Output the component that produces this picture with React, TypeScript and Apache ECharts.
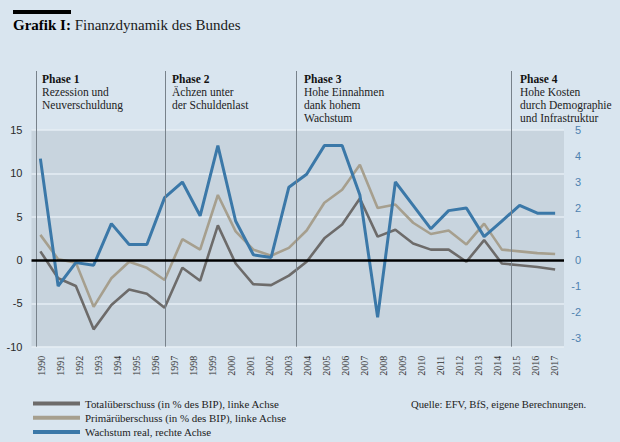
import { useRef, useEffect } from "react";
import * as echarts from "echarts";

// Jahre der Datenreihen (die Linien laufen bis 2019)
const dataYears = [
  "1990", "1991", "1992", "1993", "1994", "1995", "1996", "1997", "1998", "1999",
  "2000", "2001", "2002", "2003", "2004", "2005", "2006", "2007", "2008", "2009",
  "2010", "2011", "2012", "2013", "2014", "2015", "2016", "2017", "2018", "2019",
];
// Beschriftung der x-Achse (nur bis 2017)
const axisYears = [
  "1990", "1991", "1992", "1993", "1994", "1995", "1996", "1997", "1998", "1999",
  "2000", "2001", "2002", "2003", "2004", "2005", "2006", "2007", "2008", "2009",
  "2010", "2011", "2012", "2013", "2014", "2015", "2016", "2017",
];

const totalSurplus = [
  1.0, -2.1, -3.0, -8.0, -5.2, -3.4, -3.9, -5.5, -0.9, -2.4,
  4.0, -0.4, -2.8, -2.9, -1.8, -0.2, 2.5, 4.1, 7.1, 2.7,
  3.5, 1.9, 1.2, 1.2, -0.2, 2.3, -0.4, -0.6, -0.8, -1.1,
];
const primarySurplus = [
  2.9, 0.1, -0.3, -5.4, -2.1, -0.2, -0.9, -2.3, 2.4, 1.2,
  7.5, 3.3, 1.2, 0.5, 1.4, 3.4, 6.6, 8.1, 11.0, 6.0,
  6.4, 4.3, 3.0, 3.4, 1.8, 4.2, 1.2, 1.0, 0.8, 0.7,
];
const realGrowth = [
  3.9, -1.0, -0.1, -0.2, 1.4, 0.6, 0.6, 2.4, 3.0, 1.7,
  4.4, 1.5, 0.2, 0.1, 2.8, 3.3, 4.4, 4.4, 2.5, -2.2,
  3.0, 2.1, 1.2, 1.9, 2.0, 0.9, 1.5, 2.1, 1.8, 1.8,
];

const seriesNames = [
  "Totalüberschuss (in % des BIP), linke Achse",
  "Primärüberschuss (in % des BIP), linke Achse",
  "Wachstum real, rechte Achse",
];

// Phasengrenzen (Position auf der Jahresachse) und Texte
const phaseBounds = [1989.79, 1997.02, 2004.4, 2016.53];
const phaseTitles = ["Phase 1", "Phase 2", "Phase 3", "Phase 4"];
const phaseTexts = [
  ["Rezession und", "Neuverschuldung"],
  ["Ächzen unter", "der Schuldenlast"],
  ["Hohe Einnahmen", "dank hohem", "Wachstum"],
  ["Hohe Kosten", "durch Demographie", "und Infrastruktur"],
];
const phaseTextX = [42, 172, 304, 520];

const SERIF = "'Liberation Serif', 'Times New Roman', serif";
const SANS = "'Liberation Sans', Arial, sans-serif";
const PAGE_BG = "#d9e5ef";
const PLOT_BG = "#c8d4de";
const GREY = "#6d6b6a";
const TAN = "#a69f8e";
const BLUE = "#3b78a8";

const gridBox = { left: 31.5, right: 56, bottom: 95.3 };

const option = {
  animation: false,
  backgroundColor: PAGE_BG,
  textStyle: { fontFamily: SERIF },
  grid: [
    { ...gridBox, top: 130, show: true, backgroundColor: PLOT_BG, borderWidth: 0, outerBoundsMode: "none" },
    { ...gridBox, top: 71, outerBoundsMode: "none" },
  ],
  legend: {
    data: seriesNames,
    orient: "vertical",
    left: 33,
    top: 397.5,
    padding: 0,
    icon: "rect",
    itemWidth: 47,
    itemHeight: 4,
    itemGap: 2.3,
    selectedMode: false,
    textStyle: { fontFamily: SERIF, fontSize: 10.9, color: "#222", lineHeight: 12 },
  },
  xAxis: [
    {
      type: "category",
      gridIndex: 0,
      data: axisYears,
      boundaryGap: true,
      axisLine: { show: false },
      axisTick: { show: false },
      axisLabel: { rotate: 90, interval: 0, margin: 9, fontSize: 10, color: "#333", fontFamily: SERIF },
    },
    { type: "category", gridIndex: 0, data: dataYears, boundaryGap: true, show: false },
    { type: "value", gridIndex: 1, min: 1989.5, max: 2019.5, show: false },
  ],
  yAxis: [
    {
      type: "value",
      gridIndex: 0,
      min: -10,
      max: 15,
      interval: 5,
      axisLine: { show: false },
      axisTick: { show: false },
      axisLabel: { margin: 9, fontSize: 11, color: "#2a2a2a", fontFamily: SANS },
      splitLine: { lineStyle: { color: "#e6eef5", width: 1.5 } },
    },
    {
      type: "value",
      gridIndex: 0,
      position: "right",
      min: -10 / 3,
      max: 5,
      interval: 1 / 3,
      axisLine: { show: false },
      axisTick: { show: false },
      splitLine: { show: false },
      axisLabel: {
        margin: 17,
        align: "right",
        fontSize: 11,
        color: "#4f82b0",
        fontFamily: SANS,
        formatter: (v: number) => (Math.abs(v - Math.round(v)) < 0.01 ? String(Math.round(v) + 0) : ""),
      },
    },
    { type: "value", gridIndex: 1, min: 0, max: 1, show: false },
  ],
  series: [
    {
      name: "phasen",
      type: "line",
      xAxisIndex: 2,
      yAxisIndex: 2,
      data: [],
      silent: true,
      z: 1,
      markLine: {
        silent: true,
        symbol: ["none", "none"],
        label: { show: false },
        lineStyle: { color: "#78828b", width: 1, type: "solid" },
        data: phaseBounds.map((x) => ({ xAxis: x })),
      },
    },
    {
      name: seriesNames[0],
      type: "line",
      xAxisIndex: 1,
      yAxisIndex: 0,
      data: totalSurplus,
      symbol: "none",
      z: 3,
      lineStyle: { color: GREY, width: 2.6 },
      itemStyle: { color: GREY },
      markLine: {
        silent: true,
        symbol: ["none", "none"],
        label: { show: false },
        lineStyle: { color: "#000", width: 2.5, type: "solid" },
        data: [{ yAxis: 0 }],
      },
    },
    {
      name: seriesNames[1],
      type: "line",
      xAxisIndex: 1,
      yAxisIndex: 0,
      data: primarySurplus,
      symbol: "none",
      z: 3,
      lineStyle: { color: TAN, width: 2.6 },
      itemStyle: { color: TAN },
    },
    {
      name: seriesNames[2],
      type: "line",
      xAxisIndex: 1,
      yAxisIndex: 1,
      data: realGrowth,
      symbol: "none",
      z: 4,
      lineStyle: { color: BLUE, width: 3 },
      itemStyle: { color: BLUE },
    },
  ],
  graphic: [
    { type: "rect", left: 13, top: 10, shape: { width: 58, height: 4 }, style: { fill: "#000" } },
    {
      type: "text",
      left: 13,
      top: 17,
      style: {
        text: "{b|Grafik I:} Finanzdynamik des Bundes",
        fontFamily: SERIF,
        fontSize: 15,
        fill: "#1a1a1a",
        rich: { b: { fontWeight: "bold", fontFamily: SERIF, fontSize: 15, fill: "#000" } },
      },
    },
    ...phaseTitles.map((t, i) => ({
      type: "text",
      left: phaseTextX[i],
      top: 73,
      style: {
        text: ["{b|" + t + "}", ...phaseTexts[i]].join("\n"),
        fontFamily: SERIF,
        fontSize: 11.5,
        lineHeight: 12.8,
        fill: "#222",
        rich: { b: { fontWeight: "bold", fontFamily: SERIF, fontSize: 11.5, lineHeight: 12.8, fill: "#111" } },
      },
    })),
    {
      type: "text",
      left: 411,
      top: 398,
      style: { text: "Quelle: EFV, BfS, eigene Berechnungen.", fontFamily: SERIF, fontSize: 10.7, fill: "#222" },
    },
  ],
};

const App = () => {
  const chartRef = useRef<HTMLDivElement>(null);

  useEffect(() => {
    const myChart = echarts.init(chartRef.current, null, { renderer: "svg" });
    myChart.setOption(option);
    return () => {
      myChart.dispose();
    };
  }, []);

  return (
    <div
      ref={chartRef}
      style={{ position: "fixed", left: 0, top: 0, width: "620px", height: "442px" }}
    ></div>
  );
};

export default App;
